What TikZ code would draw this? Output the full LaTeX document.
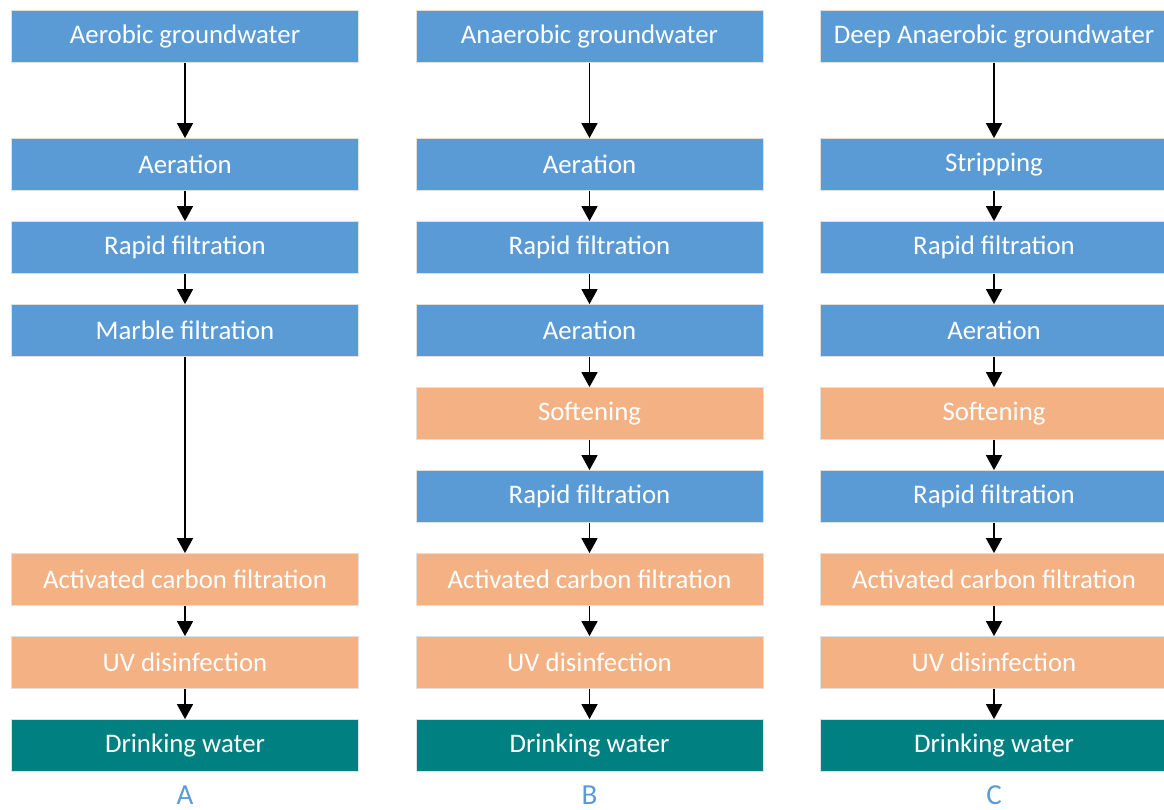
\documentclass[tikz,border=0pt]{standalone}
\usepackage{fontspec}
\setmainfont{Carlito}
\usepackage{xcolor}
\usepackage{tikz}
\usetikzlibrary{arrows.meta,positioning}
\definecolor{stepBlue}{HTML}{5B9BD5}
\definecolor{stepOrange}{HTML}{F4B183}
\definecolor{stepTeal}{HTML}{008080}

\begin{document}
\begin{tikzpicture}[x=1pt,y=1pt,
    node distance=30.2pt and 56.7pt,
    box/.style={draw=black!12,line width=0.8pt,text=white,align=center,
      minimum height=52pt,minimum width=347pt,inner sep=0pt,
      font=\fontsize{26.8}{32}\selectfont},
    bluebox/.style={box,fill=stepBlue},
    orangebox/.style={box,fill=stepOrange},
    finalbox/.style={box,fill=stepTeal},
    caption/.style={text=stepBlue,inner sep=0pt,font=\fontsize{29}{34}\selectfont},
    arrow/.style={-{Triangle[length=15pt,width=16pt]},line width=1.6pt}]
    \useasboundingbox (0,0) rectangle (1164,-810);
    % column B
    \node[bluebox] (bIn) at (589.5,-36.5) {Anaerobic groundwater};
    \node[bluebox,below=75.2pt of bIn] (bAer) {Aeration};
    \node[bluebox,below=of bAer] (bRap) {Rapid filtration};
    \node[bluebox,below=of bRap] (bAerB) {Aeration};
    \node[orangebox,below=of bAerB] (bSoft) {Softening};
    \node[bluebox,below=of bSoft] (bRapB) {Rapid filtration};
    \node[orangebox,below=of bRapB] (bAC) {Activated carbon filtration};
    \node[orangebox,below=of bAC] (bUV) {UV disinfection};
    \node[finalbox,below=of bUV] (bDW) {Drinking water};
    % column A
    \node[bluebox,left=of bIn] (aIn) {Aerobic groundwater};
    \node[bluebox,left=of bAer] (aAer) {Aeration};
    \node[bluebox,left=of bRap] (aRap) {Rapid filtration};
    \node[bluebox,left=of bAerB] (aMar) {Marble filtration};
    \node[orangebox,left=of bAC] (aAC) {Activated carbon filtration};
    \node[orangebox,left=of bUV] (aUV) {UV disinfection};
    \node[finalbox,left=of bDW] (aDW) {Drinking water};
    % column C
    \node[bluebox,right=of bIn] (cIn) {Deep Anaerobic groundwater};
    \node[bluebox,right=of bAer] (cStr) {Stripping};
    \node[bluebox,right=of bRap] (cRap) {Rapid filtration};
    \node[bluebox,right=of bAerB] (cAer) {Aeration};
    \node[orangebox,right=of bSoft] (cSoft) {Softening};
    \node[bluebox,right=of bRapB] (cRapB) {Rapid filtration};
    \node[orangebox,right=of bAC] (cAC) {Activated carbon filtration};
    \node[orangebox,right=of bUV] (cUV) {UV disinfection};
    \node[finalbox,right=of bDW] (cDW) {Drinking water};
    % captions
    \node[caption,below=14pt of aDW] (labA) {A};
    \node[caption,below=14pt of bDW] (labB) {B};
    \node[caption,below=14pt of cDW] (labC) {C};
    % arrows
    \draw[arrow] (aIn)--(aAer);
    \draw[arrow] (aAer)--(aRap);
    \draw[arrow] (aRap)--(aMar);
    \draw[arrow] (aMar)--(aAC);
    \draw[arrow] (aAC)--(aUV);
    \draw[arrow] (aUV)--(aDW);
    \draw[arrow] (bIn)--(bAer);
    \draw[arrow] (bAer)--(bRap);
    \draw[arrow] (bRap)--(bAerB);
    \draw[arrow] (bAerB)--(bSoft);
    \draw[arrow] (bSoft)--(bRapB);
    \draw[arrow] (bRapB)--(bAC);
    \draw[arrow] (bAC)--(bUV);
    \draw[arrow] (bUV)--(bDW);
    \draw[arrow] (cIn)--(cStr);
    \draw[arrow] (cStr)--(cRap);
    \draw[arrow] (cRap)--(cAer);
    \draw[arrow] (cAer)--(cSoft);
    \draw[arrow] (cSoft)--(cRapB);
    \draw[arrow] (cRapB)--(cAC);
    \draw[arrow] (cAC)--(cUV);
    \draw[arrow] (cUV)--(cDW);
  \end{tikzpicture}
\end{document}
